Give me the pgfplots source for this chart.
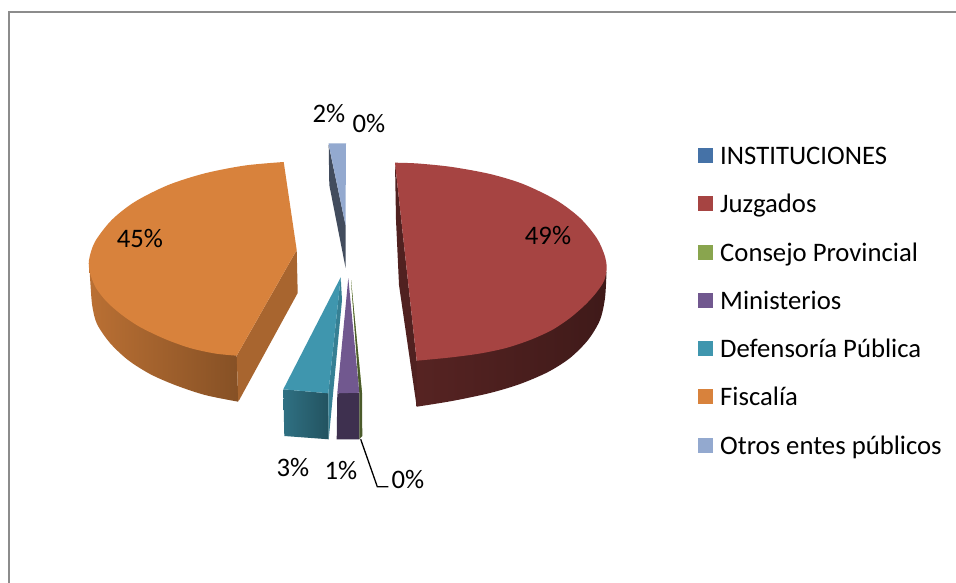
\documentclass[border=0pt]{standalone}
\usepackage{fontspec}
\setmainfont{Carlito}
\usepackage{pgfplots}
\pgfplotsset{compat=1.18}
\definecolor{cblue}{HTML}{4572A7}
\definecolor{cred}{HTML}{A64442}
\definecolor{cgreen}{HTML}{89A54E}
\definecolor{cpurple}{HTML}{71588F}
\definecolor{cteal}{HTML}{3F96AE}
\definecolor{corange}{HTML}{D8823C}
\definecolor{clight}{HTML}{93A9CF}
\newcommand{\lf}{\fontsize{26.7}{26.7}\selectfont}
\begin{document}
\begin{tikzpicture}[x=1pt,y=1pt]
\begin{axis}[
  scale only axis, width=956pt, height=583pt,
  xmin=0, xmax=956, ymin=0, ymax=583, y dir=reverse,
  axis lines=none, clip=true,
  area legend,
  legend cell align=left,
  legend image code/.code={\fill[#1] (0pt,-4.5pt) rectangle (15pt,10.5pt);},
  legend style={at={(axis cs:698,146.2)}, anchor=north west, draw=none, fill=none,
    font=\fontsize{26.7}{26.7}\selectfont, row sep=24.3pt, inner sep=0pt,
    nodes={inner ysep=0pt, inner xsep=7pt, text height=18pt, text depth=6pt, anchor=west}},
]
% page
\addplot[forget plot, fill=white, draw=none] coordinates {(0,0)(956,0)(956,583)(0,583)} -- cycle;
% frame
\addplot[forget plot, color=black!45, line width=2pt] coordinates {(9,583)(9,12)(956,12)};

% --- walls ---
% Fiscalia
\addplot[forget plot, draw=none, left color=corange!86!black, right color=corange!62!black, smooth]
 coordinates {(89.3,265)(90.5,285)(92.3,306)(97,324)(110,343)(128,360)(150,374)(175,385)(205,395)(238.3,401.7)}
 -- (axis cs:236.7,355.7) -- (axis cs:150,250) -- cycle;
\addplot[forget plot, fill=corange!78!black, draw=none]
 coordinates {(236.7,355.7)(296.7,250)(297.7,293)(238.3,401.7)} -- cycle;
% Juzgados
\addplot[forget plot, draw=none, left color=cred!52!black, right color=cred!38!black, smooth]
 coordinates {(416.7,406.7)(452,401)(490,393)(520,384)(548,372)(570,358)(588,340)(600,320)(605,298)(606.5,272)}
 -- (axis cs:500,260) -- (axis cs:416.7,360.7) -- cycle;
\addplot[forget plot, fill=cred!48!black, draw=none]
 coordinates {(395,162.7)(416.7,360.7)(416.7,406.7)(399,285)(396,220)} -- cycle;
% Defensoria
\addplot[forget plot, left color=cteal!75!black, right color=cteal!55!black, draw=none]
 coordinates {(283.3,389.3)(328.3,393.3)(328.7,439.3)(284.3,436)} -- cycle;
\addplot[forget plot, fill=cteal!85!black, draw=none]
 coordinates {(328.3,393.3)(340.7,277.3)(342,300)(328.7,439.3)} -- cycle;
% Ministerios wall
\addplot[forget plot, fill=cpurple!55!black, draw=none]
 coordinates {(337.3,393.3)(359.3,392.7)(359.3,439.3)(336.7,439.3)} -- cycle;
% Consejo wall
\addplot[forget plot, fill=cgreen!55!black, draw=none]
 coordinates {(359.3,392.7)(362,393)(362.3,436)(359.3,439.3)} -- cycle;
% Otros wall
\addplot[forget plot, fill=clight!45!black, draw=none]
 coordinates {(328.7,145)(345.5,225)(345.6,268)(329.3,185)} -- cycle;

% --- top faces (legend order) ---
\addplot[fill=cblue, draw=none] coordinates {(346,270)(346.1,270)(346,270.1)} -- cycle;
\addlegendentry{INSTITUCIONES}
\addplot[fill=cred, draw=none, smooth]
 coordinates {(395,162.7)(418,163.5)(452,167)(490,174)(523,184)(556,200)(580,218)(596.7,238)(604.5,255)(606.7,268)(604,281)(596,293)(585,305)(570,318)(552,330)(530,340)(506,348)(480,353.5)(450,357.5)(416.7,360.7)} -- cycle;
\addlegendentry{Juzgados}
\addplot[fill=cgreen, draw=none]
 coordinates {(351,280)(359.3,392.7)(362,393)} -- cycle;
\addlegendentry{Consejo Provincial}
\addplot[forget plot, fill=cgreen!55!black, draw=none]
 coordinates {(351,280)(359.3,392.7)(362,393)} -- cycle;
\addplot[fill=cpurple, draw=none]
 coordinates {(348.3,278)(359.3,392.7)(337.3,393.3)} -- cycle;
\addlegendentry{Ministerios}
\addplot[fill=cteal, draw=none]
 coordinates {(340.7,277.3)(328.3,393.3)(283.3,389.3)} -- cycle;
\addlegendentry{Defensoría Pública}
\addplot[fill=corange, draw=none, smooth]
 coordinates {(283.7,162)(245,165.5)(205,173.3)(168.3,185)(135,201.7)(111.7,220)(95,241.7)(89,260)(90,273)(96,288)(107,302)(122,315)(140,327)(165,339)(190,348)(215,353.5)(236.7,355.7)}
 -- (axis cs:296.7,250) -- cycle;
\addlegendentry{Fiscalía}
\addplot[fill=clight, draw=none]
 coordinates {(328.5,143.5)(346,143.5)(345.5,225)} -- cycle;
\addlegendentry{Otros entes públicos}

% leader line
\addplot[forget plot, color=black, line width=1.3pt] coordinates {(360.7,439.3)(377.3,486.7)(388.3,486.7)};

\node[font=\lf] at (axis cs:329,114) {2\%};
\node[font=\lf] at (axis cs:369,124) {0\%};
\node[font=\lf] at (axis cs:548,236) {49\%};
\node[font=\lf] at (axis cs:140,239) {45\%};
\node[font=\lf] at (axis cs:293,468) {3\%};
\node[font=\lf] at (axis cs:341,471) {1\%};
\node[font=\lf] at (axis cs:408,480) {0\%};
\end{axis}
\end{tikzpicture}
\end{document}
